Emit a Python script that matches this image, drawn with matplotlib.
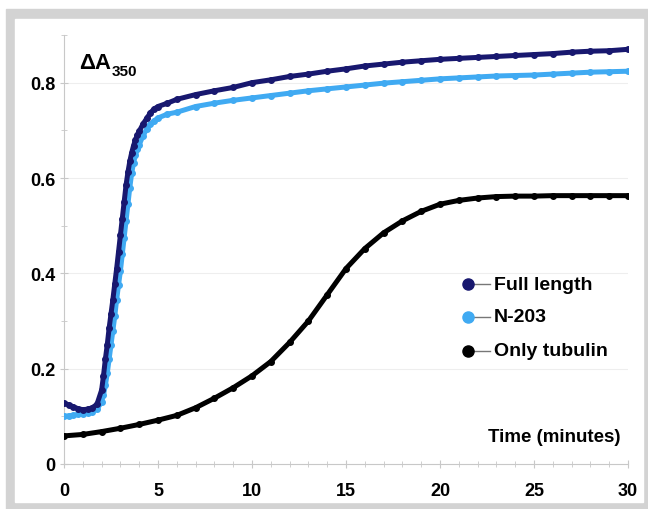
import numpy as np
import matplotlib
matplotlib.use("Agg")
import matplotlib.pyplot as plt
from matplotlib.patches import Rectangle

plt.rcParams['font.family'] = ['Liberation Sans', 'DejaVu Sans']
plt.rcParams['font.weight'] = 'bold'

# Full length
t_full = [0, 0.25, 0.5, 0.75, 1.0, 1.25, 1.5, 1.75, 2.0, 2.1, 2.2, 2.3, 2.4, 2.5, 2.6,
          2.7, 2.8, 2.9, 3.0, 3.1, 3.2, 3.3, 3.4, 3.5, 3.6, 3.7, 3.8, 3.9, 4.0, 4.2,
          4.4, 4.6, 4.8, 5.0, 5.5, 6, 7, 8, 9, 10, 11, 12, 13, 14, 15, 16, 17, 18,
          19, 20, 21, 22, 23, 24, 25, 26, 27, 28, 29, 30]
a_full = [0.128, 0.124, 0.120, 0.116, 0.114, 0.115, 0.118, 0.125, 0.155, 0.185, 0.220,
          0.250, 0.285, 0.315, 0.345, 0.378, 0.410, 0.445, 0.480, 0.515, 0.550, 0.585,
          0.612, 0.635, 0.653, 0.668, 0.680, 0.690, 0.698, 0.713, 0.725, 0.737, 0.745,
          0.750, 0.757, 0.765, 0.775, 0.783, 0.790, 0.800, 0.806, 0.813, 0.818, 0.824,
          0.829, 0.835, 0.839, 0.843, 0.846, 0.849, 0.851, 0.853, 0.855, 0.857, 0.859,
          0.861, 0.864, 0.866, 0.867, 0.870]

# N-203
t_n203 = t_full
a_n203 = [0.100, 0.101, 0.102, 0.104, 0.105, 0.107, 0.110, 0.115, 0.130, 0.145, 0.165,
          0.190, 0.220, 0.250, 0.280, 0.310, 0.345, 0.375, 0.405, 0.440, 0.475, 0.510,
          0.545, 0.580, 0.610, 0.632, 0.648, 0.660, 0.670, 0.688, 0.703, 0.713, 0.720,
          0.726, 0.734, 0.738, 0.750, 0.757, 0.763, 0.768, 0.773, 0.778, 0.783, 0.787,
          0.791, 0.795, 0.799, 0.802, 0.805, 0.808, 0.810, 0.812, 0.814, 0.815, 0.816,
          0.818, 0.820, 0.822, 0.823, 0.824]

# Only tubulin
t_tub = list(range(0, 31))
a_tub = [0.059, 0.062, 0.068, 0.075, 0.083, 0.092, 0.102, 0.118, 0.138, 0.160, 0.185,
         0.215, 0.255, 0.300, 0.355, 0.410, 0.452, 0.485, 0.510, 0.530, 0.545, 0.553,
         0.558, 0.561, 0.562, 0.562, 0.563, 0.563, 0.563, 0.563, 0.563]

labels = ["Full length", "N-203", "Only tubulin"]
colors = ["#18186f", "#40aaf2", "#000000"]

fig = plt.figure(figsize=(6.48, 5.10), dpi=100)
fig.patches.append(Rectangle((6/648, 0), 1, 1 - 10/510, transform=fig.transFigure,
                             color="#d3d3d3", zorder=-10))
fig.patches.append(Rectangle((15/648, 7/510), 628/648, 483/510, transform=fig.transFigure,
                             color="white", zorder=-9))

ax = fig.add_axes([64/648, 1 - 465/510, 564/648, 429/510])
ax.patch.set_alpha(0)

series = [(t_full, a_full), (t_n203, a_n203), (t_tub, a_tub)]
for (t, a), c in zip(series[::-1], colors[::-1]):
    ax.plot(t, a, color=c, lw=3.6, marker='o', ms=4, mec=c, solid_capstyle='round',
            zorder=3)

ax.set_xlim(0, 30)
ax.set_ylim(0, 0.9)
ax.set_xticks([0, 5, 10, 15, 20, 25, 30])
ax.set_xticks(range(31), minor=True)
ax.set_yticks([0, 0.2, 0.4, 0.6, 0.8])
ax.set_yticklabels(["0", "0.2", "0.4", "0.6", "0.8"])
ax.set_yticks([0.1, 0.3, 0.5, 0.7, 0.9], minor=True)
ax.tick_params(which='both', direction='inout', color='#c8c8c8', labelsize=13)
ax.tick_params(which='major', length=6)
ax.tick_params(which='minor', length=5)
ax.tick_params(axis='x', pad=10)
ax.tick_params(axis='y', pad=3)
for s in ['top', 'right']:
    ax.spines[s].set_visible(False)
for s in ['left', 'bottom']:
    ax.spines[s].set_color('#c8c8c8')
ax.yaxis.grid(True, color='#eeeeee', lw=0.8)
ax.set_axisbelow(True)

ax.text(0.026, 0.922, "ΔA", transform=ax.transAxes, fontsize=16, fontweight='bold',
        va='baseline')
ax.text(0.084, 0.906, "350", transform=ax.transAxes, fontsize=11, fontweight='bold',
        va='baseline')

ax.text(0.986, 0.063, "Time (minutes)", transform=ax.transAxes, fontsize=13.5,
        fontweight='bold', ha='right', va='center')

# legend drawn by hand: marker at left end of a short line
leg_y = [(465 - 285) / 429, (465 - 318) / 429, (465 - 352) / 429]
mx = (468 - 64) / 564
lx = (490 - 64) / 564
tx = (494 - 64) / 564
for y, lab, c in zip(leg_y, labels, colors):
    ax.plot([mx, lx], [y, y], color='#777777', lw=1, transform=ax.transAxes, zorder=4)
    ax.plot([mx], [y], marker='o', ms=8, color=c, transform=ax.transAxes, zorder=5)
    ax.text(tx, y, lab, transform=ax.transAxes, fontsize=14, fontweight='bold',
            va='center')

fig.savefig("out.png", dpi=100)
